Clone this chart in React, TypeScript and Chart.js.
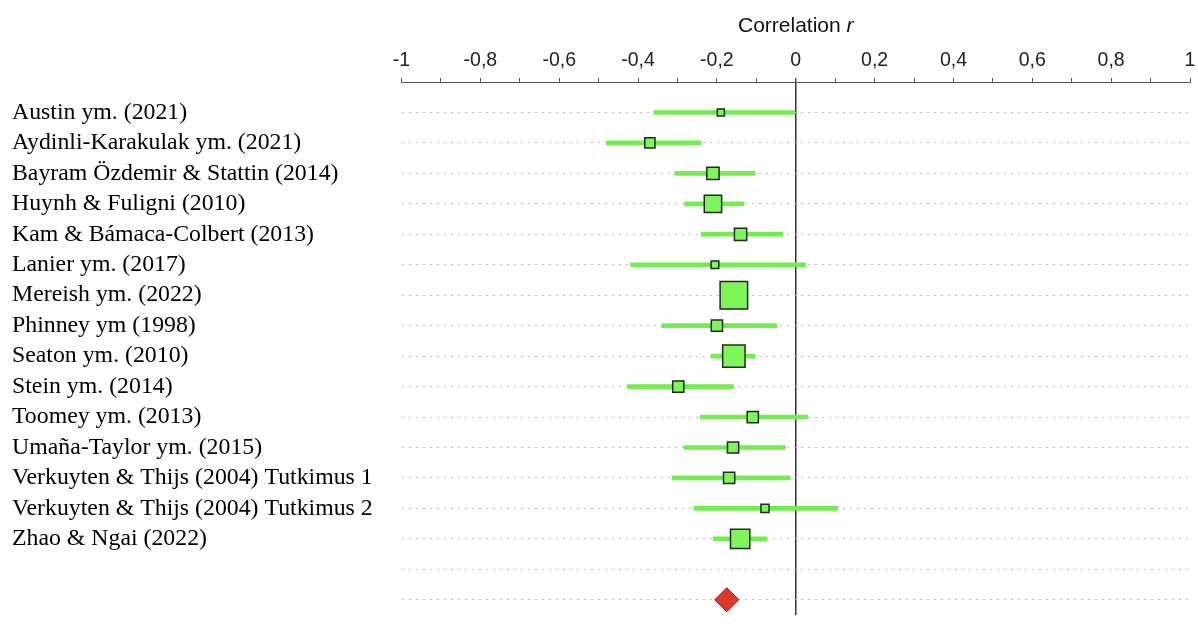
import React, { useEffect, useRef } from "react";
import { Chart, registerables } from "chart.js";

Chart.register(...registerables);

// ---- data ----
const studyLabels = [
  "Austin ym. (2021)",
  "Aydinli-Karakulak ym. (2021)",
  "Bayram Özdemir & Stattin (2014)",
  "Huynh & Fuligni (2010)",
  "Kam & Bámaca-Colbert (2013)",
  "Lanier ym. (2017)",
  "Mereish ym. (2022)",
  "Phinney ym (1998)",
  "Seaton ym. (2010)",
  "Stein ym. (2014)",
  "Toomey ym. (2013)",
  "Umaña-Taylor ym. (2015)",
  "Verkuyten & Thijs (2004) Tutkimus 1",
  "Verkuyten & Thijs (2004) Tutkimus 2",
  "Zhao & Ngai (2022)",
];
const extraRowLabels = ["", ""]; // blank row + summary row
const estimates = [-0.19, -0.37, -0.21, -0.21, -0.14, -0.205, -0.157, -0.2, -0.157, -0.298, -0.109, -0.159, -0.169, -0.078, -0.141];
const ciLower = [-0.36, -0.48, -0.307, -0.282, -0.24, -0.419, -0.185, -0.34, -0.215, -0.427, -0.242, -0.284, -0.314, -0.258, -0.209];
const ciUpper = [0.0, -0.24, -0.103, -0.132, -0.033, 0.025, -0.13, -0.048, -0.103, -0.158, 0.03, -0.026, -0.014, 0.107, -0.073];
const weights = [1.6, 3.3, 4.8, 9.6, 4.8, 1.9, 24.1, 4.0, 16.0, 4.0, 4.0, 4.0, 4.0, 2.1, 11.9];
const summaryEstimate = -0.175;
const xTickLabels = ["-1", "-0,8", "-0,6", "-0,4", "-0,2", "0", "0,2", "0,4", "0,6", "0,8", "1"];

const rowLabels = [...studyLabels, ...extraRowLabels];
const rowIndex = rowLabels.map((_, i) => i);
const summaryRow = rowLabels.length - 1;

const titlePlugin = {
  id: "axisTitle",
  afterDraw(chart: any) {
    const ctx = chart.ctx;
    const xs = chart.scales.x;
    const cx = (xs.left + xs.right) / 2;
    ctx.save();
    ctx.fillStyle = "#111";
    ctx.textBaseline = "middle";
    const normal = "21px 'Liberation Sans', Arial, sans-serif";
    const italic = "italic 21px 'Liberation Sans', Arial, sans-serif";
    ctx.font = normal;
    const w1 = ctx.measureText("Correlation ").width;
    ctx.font = italic;
    const w2 = ctx.measureText("r").width;
    const start = cx - (w1 + w2) / 2;
    ctx.font = normal;
    ctx.textAlign = "left";
    ctx.fillText("Correlation ", start, 26);
    ctx.font = italic;
    ctx.fillText("r", start + w1, 26);
    ctx.restore();
  },
};

export default function App() {
  const ref = useRef<HTMLCanvasElement | null>(null);

  useEffect(() => {
    if (!ref.current) return;
    const sizeOf = (w: number) => Math.max(1, (5.6 * Math.sqrt(w)) / Math.SQRT2);
    const chart = new Chart(ref.current, {
      type: "bar",
      data: {
        datasets: [
          {
            type: "scatter",
            data: estimates.map((v, i) => ({ x: v, y: i })),
            pointStyle: "rect",
            pointRadius: weights.map(sizeOf),
            pointHoverRadius: weights.map(sizeOf),
            backgroundColor: "#7ff55b",
            borderColor: "#1f2a1f",
            borderWidth: 1.5,
            order: 1,
          } as any,
          {
            type: "scatter",
            data: [{ x: summaryEstimate, y: summaryRow }],
            pointStyle: "rectRot",
            pointRadius: 12,
            pointHoverRadius: 12,
            backgroundColor: "#e2352b",
            borderColor: "#8a2018",
            borderWidth: 1,
            order: 1,
          } as any,
          {
            type: "bar",
            data: estimates.map((_, i) => ({ x: [ciLower[i], ciUpper[i]], y: i })),
            backgroundColor: "#72ec4f",
            borderWidth: 0,
            barThickness: 4,
            order: 2,
          } as any,
        ],
      },
      options: {
        indexAxis: "y",
        animation: false,
        responsive: false,
        devicePixelRatio: 1,
        layout: { autoPadding: false, padding: { left: 12, right: 8, top: 0, bottom: 11 } },
        plugins: { legend: { display: false }, tooltip: { enabled: false } },
        scales: {
          x: {
            type: "linear",
            position: "top",
            min: -1,
            max: 1,
            offset: false,
            afterBuildTicks: (scale: any) => {
              const t = [];
              for (let i = 0; i <= 20; i++) t.push({ value: -1 + i * 0.1 });
              scale.ticks = t;
            },
            afterFit: (scale: any) => {
              scale.height = 82;
              scale.paddingLeft = 0;
              scale.paddingRight = 0;
            },
            ticks: {
              autoSkip: false,
              maxRotation: 0,
              padding: 6,
              color: "#222",
              font: { family: "'Liberation Sans', Arial, sans-serif", size: 19.5 },
              callback: (_v: any, idx: number) => (idx % 2 === 0 ? xTickLabels[idx / 2] : ""),
            },
            grid: {
              display: true,
              drawOnChartArea: true,
              drawTicks: true,
              offset: false,
              tickLength: 4,
              tickColor: "#555",
              lineWidth: (c: any) => (c.tick && Math.abs(c.tick.value) < 1e-9 ? 1.5 : 1),
              color: (c: any) => (c.tick && Math.abs(c.tick.value) < 1e-9 ? "#333" : "rgba(0,0,0,0)"),
            },
            border: { display: true, color: "#555", width: 1 },
          },
          y: {
            type: "linear",
            reverse: true,
            min: -1,
            max: 16.5,
            offset: false,
            afterBuildTicks: (scale: any) => {
              scale.ticks = rowIndex.map((v) => ({ value: v }));
            },
            afterFit: (scale: any) => {
              scale.width = 389.5;
              scale.paddingTop = 0;
              scale.paddingBottom = 0;
            },
            ticks: {
              autoSkip: false,
              crossAlign: "far",
              padding: 0,
              color: "#000",
              font: { family: "'Liberation Serif', 'Times New Roman', serif", size: 23.8 },
              callback: (v: any) => rowLabels[v] ?? "",
            },
            grid: {
              display: true,
              drawTicks: false,
              offset: false,
              color: "#bdbdbd",
              lineWidth: 1,
            },
            border: { display: false, dash: [2, 5] },
          },
        },
      },
      plugins: [titlePlugin],
    } as any);
    return () => chart.destroy();
  }, []);

  return (
    <div
      style={{
        position: "fixed",
        left: 0,
        top: 0,
        width: 1198,
        height: 626,
        overflow: "hidden",
        background: "#fff",
      }}
    >
      <canvas ref={ref} width={1198} height={626} style={{ display: "block", width: 1198, height: 626 }} />
    </div>
  );
}
